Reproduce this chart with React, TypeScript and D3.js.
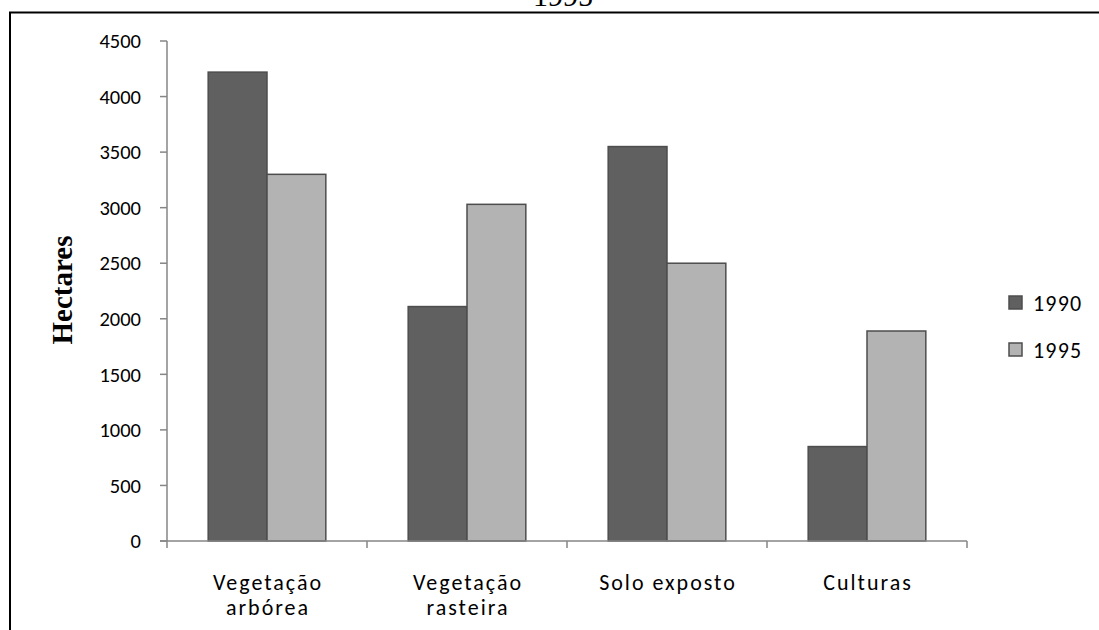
import React from "react";
import * as d3 from "d3";

const categories = [["Vegetação", "arbórea"], ["Vegetação", "rasteira"], ["Solo exposto"], ["Culturas"]];
const seriesNames = ["1990", "1995"];
const values1990 = [4220, 2110, 3550, 850];
const values1995 = [3300, 3030, 2500, 1890];
const yTicks = [0, 500, 1000, 1500, 2000, 2500, 3000, 3500, 4000, 4500];
const colors = ["#606060", "#b3b3b3"];

export default function App() {
  const W = 1099, H = 630;
  const x0 = 167, x1 = 967, yTop = 41, yBot = 541;
  const x = d3.scaleBand<number>().domain(d3.range(categories.length)).range([x0, x1]).paddingInner(0).paddingOuter(0);
  const xs = d3.scaleBand<number>().domain([0, 1]).range([0, x.bandwidth()]).paddingInner(0).paddingOuter(0.7);
  const y = d3.scaleLinear().domain([0, 4500]).range([yBot, yTop]);
  const series = [values1990, values1995];
  const font = "Carlito, Calibri, Lato, sans-serif";
  const serif = "'Liberation Serif', 'Times New Roman', serif";
  return (
    <svg width={W} height={H} style={{ position: "absolute", left: 0, top: 0, background: "#fff" }}>
      <text x={563} y={6} textAnchor="middle" fontFamily={serif} fontSize={30} fill="#000">1995</text>
      <path d={`M10,${H + 5} L10,12.5 L${W + 5},12.5`} fill="none" stroke="#000" strokeWidth={2} />
      {/* bars */}
      {series.map((vals, s) =>
        vals.map((v, i) => (
          <rect key={`${s}-${i}`} x={(x(i) as number) + (xs(s) as number)} y={y(v)} width={xs.bandwidth()} height={y(0) - y(v)}
            fill={colors[s]} stroke="#4d4d4d" strokeWidth={1.5} />
        ))
      )}
      {/* y axis */}
      <line x1={x0} x2={x0} y1={yTop} y2={yBot} stroke="#868686" strokeWidth={1.5} />
      {yTicks.map(t => (
        <g key={t}>
          <line x1={x0 - 7} x2={x0} y1={y(t)} y2={y(t)} stroke="#868686" strokeWidth={1.5} />
          <text x={141} y={y(t)} dy="0.35em" textAnchor="end" fontFamily={font} fontSize={20.5} fill="#000">{t}</text>
        </g>
      ))}
      {/* x axis */}
      <line x1={x0 - 7} x2={x1} y1={yBot} y2={yBot} stroke="#868686" strokeWidth={1.5} />
      {d3.range(categories.length + 1).map(i => {
        const xx = i < categories.length ? (x(i) as number) : x1;
        return <line key={i} x1={xx} x2={xx} y1={yBot} y2={yBot + 7} stroke="#868686" strokeWidth={1.5} />;
      })}
      {categories.map((lines, i) => (
        <text key={i} textAnchor="middle" fontFamily={font} fontSize={22} letterSpacing={2} fill="#000">
          {lines.map((l, j) => (
            <tspan key={j} x={(x(i) as number) + x.bandwidth() / 2 + 1} y={590 + j * 25}>{l}</tspan>
          ))}
        </text>
      ))}
      {/* y title */}
      <text transform="translate(72,290) rotate(-90)" textAnchor="middle" fontFamily={serif} fontWeight="bold" fontSize={29} fill="#000">Hectares</text>
      {/* legend */}
      {seriesNames.map((n, s) => (
        <g key={n}>
          <rect x={1009} y={296 + s * 47} width={13} height={13} fill={colors[s]} stroke="#4d4d4d" strokeWidth={1.5} />
          <text x={1033} y={303 + s * 47} dy="0.35em" fontFamily={font} fontSize={22} letterSpacing={1.2} fill="#000">{n}</text>
        </g>
      ))}
    </svg>
  );
}
